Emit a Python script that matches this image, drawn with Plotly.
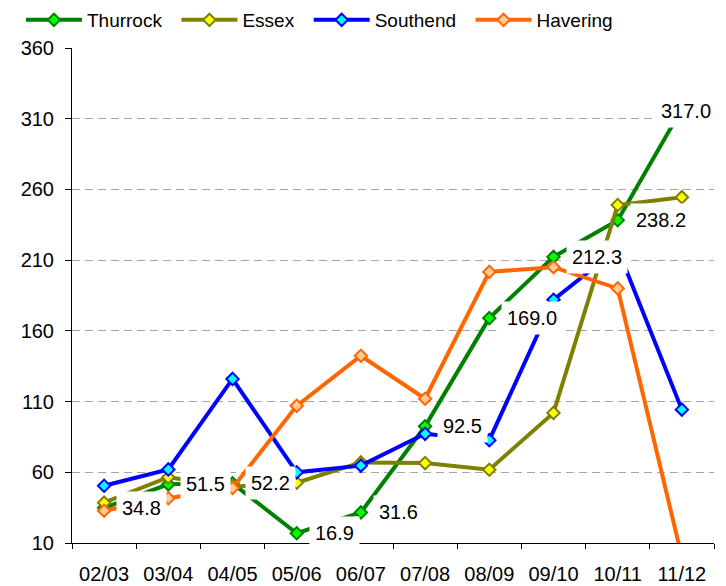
import plotly.graph_objects as go

categories = ["02/03", "03/04", "04/05", "05/06", "06/07", "07/08", "08/09", "09/10", "10/11", "11/12"]
thurrock = [34.8, 51.5, 52.2, 16.9, 31.6, 92.5, 169.0, 212.3, 238.2, 317.0]
essex = [38.5, 56.5, 49.7, 52.6, 67.0, 66.5, 61.8, 102.0, 249.0, 254.5]
southend = [50.5, 62.0, 126.0, 60.0, 64.7, 87.2, 82.7, 182.0, 218.0, 104.3]
havering = [32.8, 41.7, 48.9, 107.0, 142.4, 112.0, 201.7, 205.0, 190.0, 0.0]
y_ticks = [10, 60, 110, 160, 210, 260, 310, 360]

FONT = "Liberation Sans, Arial, Helvetica, sans-serif"

series = [
    ("Thurrock", thurrock, "#008000", "#00FF00"),
    ("Essex", essex, "#808000", "#FFFF00"),
    ("Southend", southend, "#0000FF", "#00FFFF"),
    ("Havering", havering, "#FF6600", "#FFCC99"),
]

fig = go.Figure()
for name, vals, lc, fc in series:
    fig.add_trace(go.Scatter(
        x=categories, y=vals, name=name + "\u2002", mode="lines+markers",
        line=dict(color=lc, width=4),
        marker=dict(symbol="diamond", size=9.5, color=fc, line=dict(color=lc, width=2)),
        cliponaxis=True,
    ))

annotations = []
for i, v in enumerate(thurrock):
    if i == len(thurrock) - 1:
        annotations.append(dict(x=categories[i], y=v, text=f"{v:.1f}", showarrow=False,
                                xanchor="right", xshift=35, yshift=-2, bgcolor="white",
                                borderpad=5, font=dict(family=FONT, size=20, color="black")))
    else:
        annotations.append(dict(x=categories[i], y=v, text=f"{v:.1f}", showarrow=False,
                                xanchor="left", xshift=12, bgcolor="white",
                                borderpad=5, font=dict(family=FONT, size=20, color="black")))

# The page body adds an 8px offset, so the figure is sized to fit the remaining window.
fig.update_layout(
    width=718, height=578,
    margin=dict(l=64, r=12, t=40, b=43, autoexpand=False),
    paper_bgcolor="white", plot_bgcolor="white",
    font=dict(family=FONT, size=20, color="black"),
    showlegend=True,
    legend=dict(orientation="h", x=-0.0795, xanchor="left", y=1 + 28 / 495, yanchor="middle",
                font=dict(family=FONT, size=19, color="black"), itemwidth=56,
                bgcolor="rgba(0,0,0,0)", tracegroupgap=0),
    annotations=annotations,
    xaxis=dict(type="category", range=[-0.5, 9.5], showline=True, linecolor="black", linewidth=1,
               ticks="outside", ticklen=5, tickcolor="black", tickson="boundaries",
               showgrid=False, zeroline=False, ticklabelstandoff=13,
               tickfont=dict(family=FONT, size=20, color="black")),
    yaxis=dict(range=[10, 360], tickvals=y_ticks, showline=True, linecolor="black", linewidth=1,
               ticks="outside", ticklen=6, tickcolor="black", ticklabelstandoff=7,
               showgrid=True, gridcolor="#a6a6a6", gridwidth=1, griddash="8px,5px",
               zeroline=False, tickfont=dict(family=FONT, size=20, color="black")),
)

fig.write_html("out.html")
